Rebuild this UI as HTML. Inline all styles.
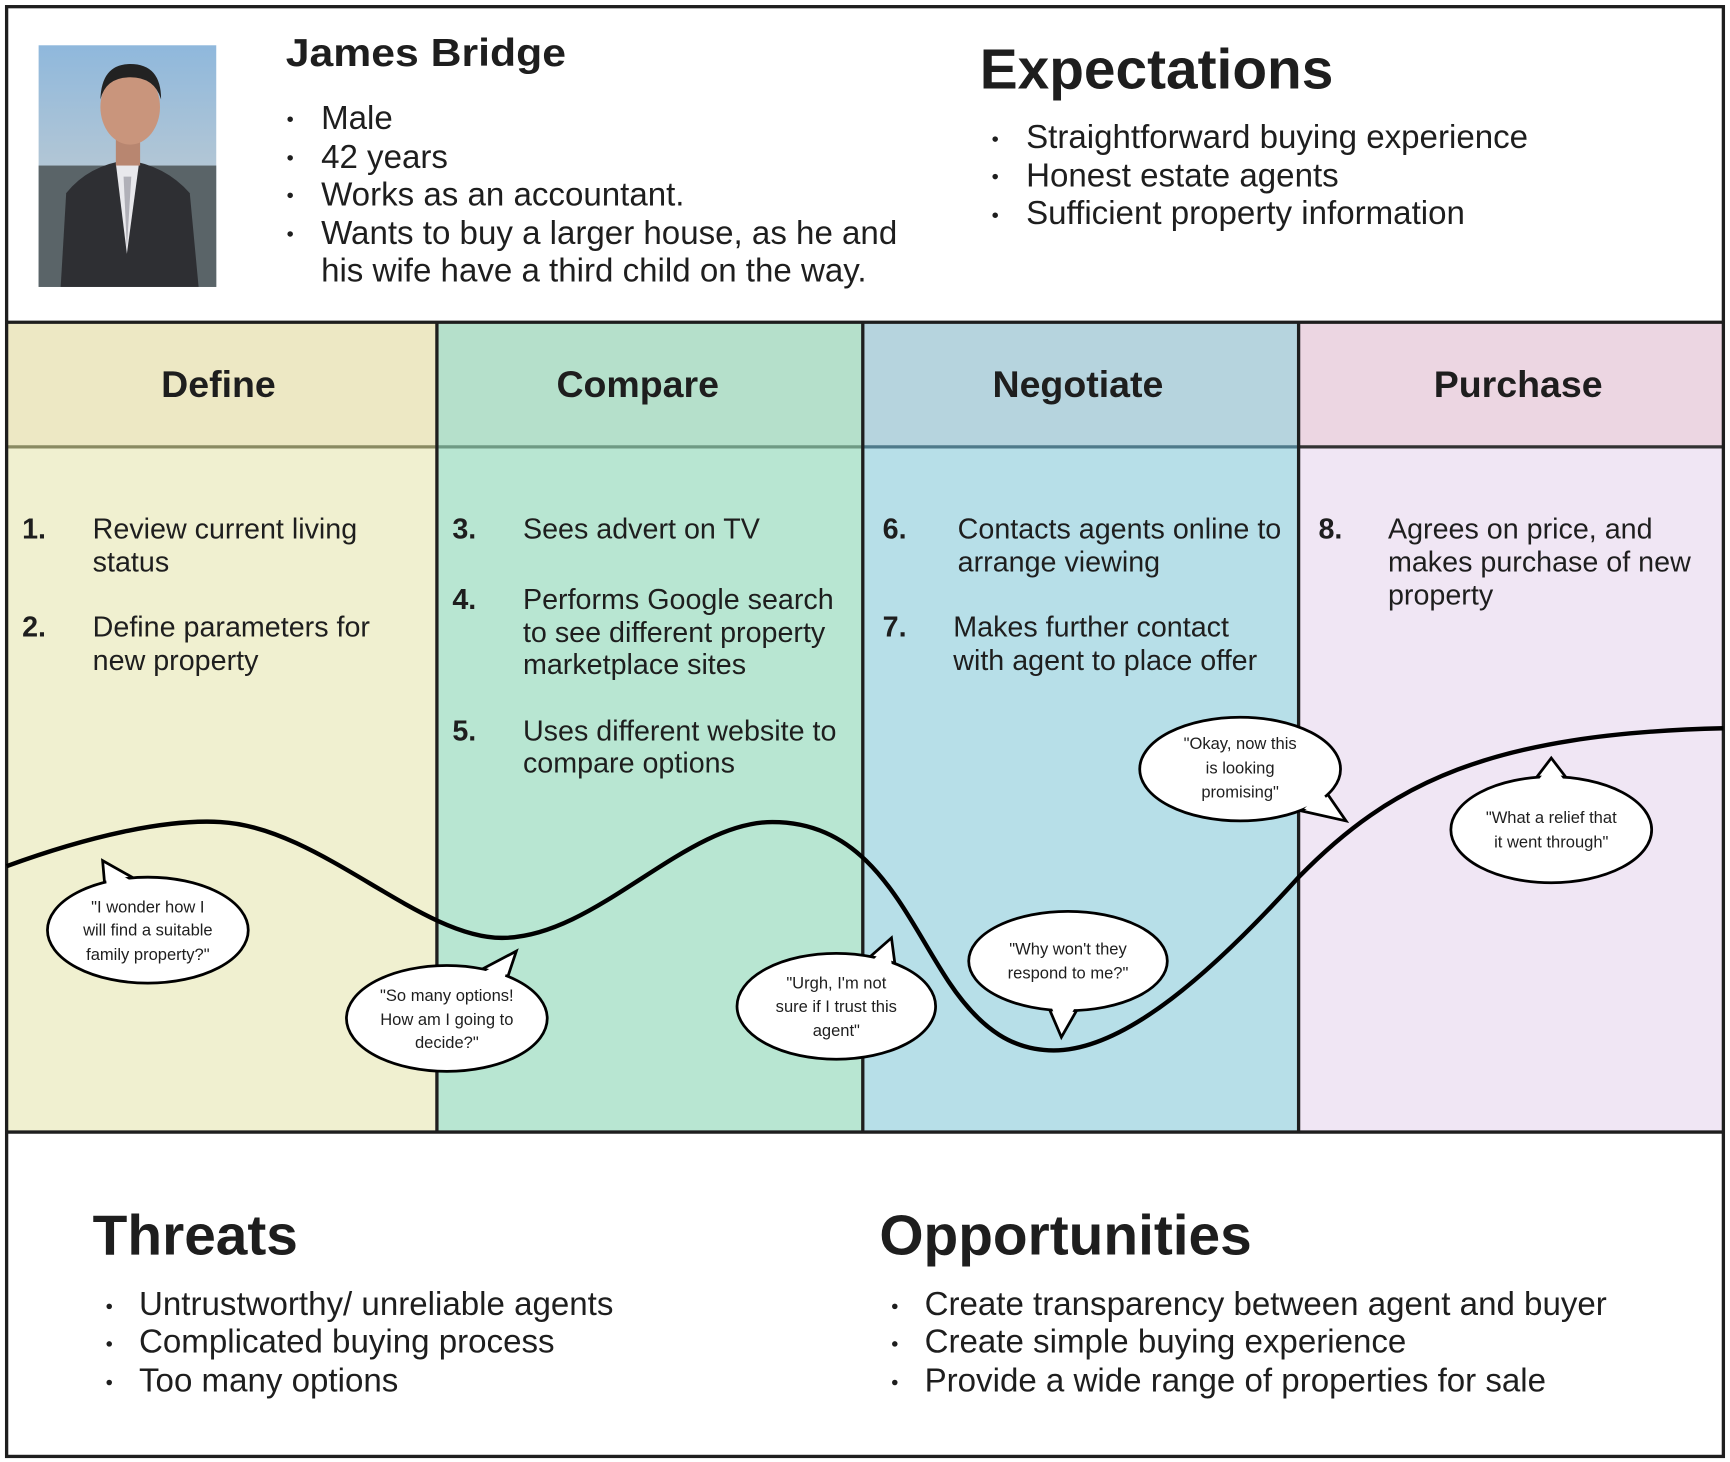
<!DOCTYPE html>
<html><head><meta charset="utf-8"><style>
html,body{margin:0;padding:0;background:#fff}
svg{display:block}
text{font-family:"Liberation Sans",Arial,sans-serif;fill:#1e1e1e}
.b{font-weight:bold}
.t{font-size:26px}
.q{font-size:15px;fill:#222}
</style></head><body>
<svg width="1730" height="1462" viewBox="0 0 1568 1325" xmlns="http://www.w3.org/2000/svg">
<rect x="0" y="0" width="1568" height="1325" fill="#fff"/>
<rect x="6" y="292" width="390" height="113" fill="#ede8c4"/>
<rect x="6" y="405" width="390" height="621" fill="#f0f0d0"/>
<rect x="396" y="292" width="386" height="113" fill="#b5e0cb"/>
<rect x="396" y="405" width="386" height="621" fill="#b8e6d2"/>
<rect x="782" y="292" width="395" height="113" fill="#b6d4de"/>
<rect x="782" y="405" width="395" height="621" fill="#b7dfe8"/>
<rect x="1177" y="292" width="385" height="113" fill="#ecd6e2"/>
<rect x="1177" y="405" width="385" height="621" fill="#f0e6f4"/>
<line x1="6" y1="405" x2="396" y2="405" stroke="#8a8a62" stroke-width="3"/>
<line x1="396" y1="405" x2="782" y2="405" stroke="#6f9a84" stroke-width="3"/>
<line x1="782" y1="405" x2="1177" y2="405" stroke="#4f7a8a" stroke-width="3"/>
<line x1="1177" y1="405" x2="1562" y2="405" stroke="#333" stroke-width="3"/>
<g stroke="#1e1e1e" stroke-width="3">
<line x1="396" y1="292" x2="396" y2="1026"/>
<line x1="782" y1="292" x2="782" y2="1026"/>
<line x1="1177" y1="292" x2="1177" y2="1026"/>
<line x1="6" y1="292" x2="1562" y2="292"/>
<line x1="6" y1="1026" x2="1562" y2="1026"/>
</g>
<rect x="6" y="6" width="1556" height="1314" fill="none" stroke="#1e1e1e" stroke-width="3"/>
<defs><linearGradient id="sky" x1="0" y1="0" x2="0" y2="1"><stop offset="0" stop-color="#8fb8dc"/><stop offset="0.6" stop-color="#b9c9d4"/><stop offset="1" stop-color="#6d7a80"/></linearGradient></defs>
<rect x="35" y="41" width="161" height="219" fill="url(#sky)"/>
<rect x="35" y="150" width="161" height="110" fill="#5a6468"/>
<path d="M55,260 L60,175 Q80,150 115,145 Q150,150 172,175 L180,260 Z" fill="#2e2f33"/>
<path d="M105,148 L115,230 L126,148 Z" fill="#e8e8ec"/>
<path d="M112,160 L115,225 L119,160 Z" fill="#b0b0b8"/>
<rect x="105" y="120" width="22" height="30" fill="#b88670"/>
<ellipse cx="118" cy="97" rx="27" ry="34" fill="#c9957c"/>
<path d="M91,90 Q92,58 118,58 Q146,58 146,90 Q140,70 118,70 Q96,70 91,90Z" fill="#222"/>
<text x="259" y="60" class="b" font-size="35" textLength="254" lengthAdjust="spacingAndGlyphs">James Bridge</text>
<g font-size="30">
<text x="291" y="117">Male</text><text x="291" y="152">42 years</text>
<text x="291" y="186">Works as an accountant.</text>
<text x="291" y="221">Wants to buy a larger house, as he and</text>
<text x="291" y="255">his wife have a third child on the way.</text>
</g>
<g fill="#1e1e1e"><circle cx="263" cy="108" r="2.5"/><circle cx="263" cy="143" r="2.5"/><circle cx="263" cy="177" r="2.5"/><circle cx="263" cy="212" r="2.5"/></g>
<text x="888" y="80" class="b" font-size="51.5">Expectations</text>
<g font-size="30">
<text x="930" y="134">Straightforward buying experience</text>
<text x="930" y="169">Honest estate agents</text>
<text x="930" y="203">Sufficient property information</text>
</g>
<g fill="#1e1e1e"><circle cx="902" cy="126" r="2.5"/><circle cx="902" cy="160" r="2.5"/><circle cx="902" cy="195" r="2.5"/></g>
<g class="b" font-size="34" text-anchor="middle">
<text x="198" y="360">Define</text><text x="578" y="360">Compare</text>
<text x="977" y="360">Negotiate</text><text x="1376" y="360">Purchase</text>
</g>
<g class="t">
<text x="20" y="488" class="b">1.</text><text x="84" y="488">Review current living</text><text x="84" y="518">status</text>
<text x="20" y="577" class="b">2.</text><text x="84" y="577">Define parameters for</text><text x="84" y="607">new property</text>
<text x="410" y="488" class="b">3.</text><text x="474" y="488">Sees advert on TV</text>
<text x="410" y="552" class="b">4.</text><text x="474" y="552">Performs Google search</text><text x="474" y="582">to see different property</text><text x="474" y="611">marketplace sites</text>
<text x="410" y="671" class="b">5.</text><text x="474" y="671">Uses different website to</text><text x="474" y="700">compare options</text>
<text x="800" y="488" class="b">6.</text><text x="868" y="488">Contacts agents online to</text><text x="868" y="518">arrange viewing</text>
<text x="800" y="577" class="b">7.</text><text x="864" y="577">Makes further contact</text><text x="864" y="607">with agent to place offer</text>
<text x="1195" y="488" class="b">8.</text><text x="1258" y="488">Agrees on price, and</text><text x="1258" y="518">makes purchase of new</text><text x="1258" y="548">property</text>
</g>
<path d="M6,785 C80,758 150,742 200,745 C290,750 380,850 455,850 C540,850 620,745 700,745 C790,745 820,830 860,890 C890,935 920,952 955,952 C1020,952 1100,880 1177,795 C1260,710 1350,665 1562,660" fill="none" stroke="#000" stroke-width="4"/>
<g stroke="#000" stroke-width="2.5" fill="#fff">
<polygon points="95,803 93,780 125,798"/><ellipse cx="134" cy="843" rx="91" ry="48"/><polygon points="97,805 95,785 122,800" stroke="none"/>
<polygon points="430,882 468,862 458,892"/><ellipse cx="405" cy="923" rx="91" ry="48"/><polygon points="432,885 464,866 455,893" stroke="none"/>
<polygon points="783,872 808,850 813,888"/><ellipse cx="758" cy="912" rx="90" ry="48"/><polygon points="785,876 806,856 810,889" stroke="none"/>
<polygon points="950,912 962,940 978,912"/><ellipse cx="968" cy="871" rx="90" ry="45"/><polygon points="952,910 962,935 976,910" stroke="none"/>
<polygon points="1180,735 1220,744 1200,715"/><ellipse cx="1124" cy="697" rx="91" ry="47"/><polygon points="1182,733 1215,741 1198,718" stroke="none"/>
<polygon points="1390,708 1406,687 1422,708"/><ellipse cx="1406" cy="752" rx="91" ry="48"/><polygon points="1392,710 1406,692 1420,710" stroke="none"/>
</g>
<g class="q" text-anchor="middle">
<text x="134" y="827">"I wonder how I</text><text x="134" y="848">will find a suitable</text><text x="134" y="870">family property?"</text>
<text x="405" y="907">"So many options!</text><text x="405" y="929">How am I going to</text><text x="405" y="950">decide?"</text>
<text x="758" y="896">"Urgh, I'm not</text><text x="758" y="917">sure if I trust this</text><text x="758" y="939">agent"</text>
<text x="968" y="865">"Why won't they</text><text x="968" y="887">respond to me?"</text>
<text x="1124" y="679">"Okay, now this</text><text x="1124" y="701">is looking</text><text x="1124" y="723">promising"</text>
<text x="1406" y="746">"What a relief that</text><text x="1406" y="768">it went through"</text>
</g>
<text x="84" y="1137" class="b" font-size="51.5">Threats</text>
<g font-size="30">
<text x="126" y="1192">Untrustworthy/ unreliable agents</text>
<text x="126" y="1226">Complicated buying process</text>
<text x="126" y="1261">Too many options</text>
</g>
<g fill="#1e1e1e"><circle cx="99" cy="1184" r="2.5"/><circle cx="99" cy="1218" r="2.5"/><circle cx="99" cy="1253" r="2.5"/></g>
<text x="797" y="1137" class="b" font-size="51.5">Opportunities</text>
<g font-size="30">
<text x="838" y="1192">Create transparency between agent and buyer</text>
<text x="838" y="1226">Create simple buying experience</text>
<text x="838" y="1261">Provide a wide range of properties for sale</text>
</g>
<g fill="#1e1e1e"><circle cx="811" cy="1184" r="2.5"/><circle cx="811" cy="1218" r="2.5"/><circle cx="811" cy="1253" r="2.5"/></g>
</svg>
</body></html>
